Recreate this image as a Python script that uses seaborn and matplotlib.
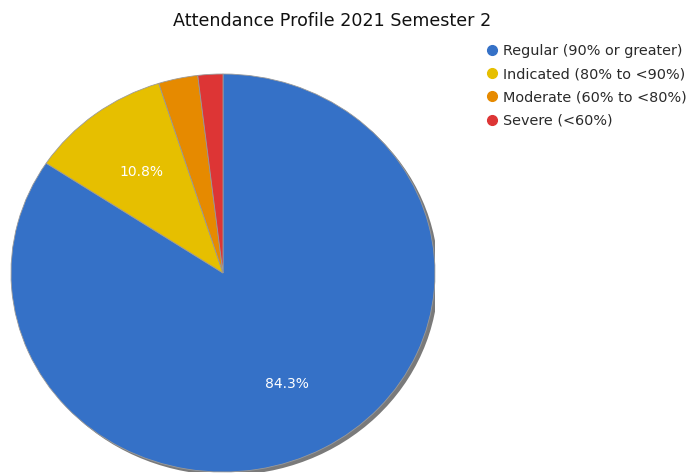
import matplotlib
matplotlib.use("Agg")
import matplotlib.pyplot as plt
from matplotlib.lines import Line2D
from matplotlib.patches import Ellipse
import seaborn as sns
import pandas as pd
import numpy as np

# 데이터
categories = ["Regular (90% or greater)", "Indicated (80% to <90%)",
              "Moderate (60% to <80%)", "Severe (<60%)"]
shares = [84.3, 10.8, 3.0, 1.9]
shown_labels = ["84.3%", "10.8%", "", ""]
colors = ["#3571C7", "#E6BF00", "#E68A00", "#DD3535"]

df = pd.DataFrame({"category": categories, "share": shares})

sns.set_theme(style="white")
plt.rcParams['font.family'] = ['DejaVu Sans']
palette = sns.color_palette(colors)

fig = plt.figure(figsize=(6.99, 4.76), dpi=100)
# pie box in pixels: x 11..435, y 74..472 (slightly wider than tall)
ax = fig.add_axes([11 / 699, 4 / 476, 424 / 699, 398 / 476])

# shadow behind the pie
ax.add_patch(Ellipse((0.016, -0.016), 2, 2, facecolor="#7a7a7a",
                     edgecolor="none", zorder=0))

wedges, _ = ax.pie(df["share"], colors=palette, startangle=90,
                   counterclock=False, radius=1,
                   wedgeprops=dict(edgecolor="#9a9a9a", linewidth=0.6, zorder=1))

# percentage labels (only big slices)
for w, lab in zip(wedges, shown_labels):
    if not lab:
        continue
    ang = np.deg2rad((w.theta1 + w.theta2) / 2)
    ax.text(0.635 * np.cos(ang), 0.635 * np.sin(ang), lab, color="white",
            ha="center", va="center", fontsize=10, zorder=3)

ax.set_aspect("auto")
ax.set_xlim(-1, 1)
ax.set_ylim(-1, 1)
ax.axis("off")

fig.text(332 / 699, 1 - 21 / 476, "Attendance Profile 2021 Semester 2",
         ha="center", va="center", fontsize=12.6, color="#111111")

handles = [Line2D([], [], marker="o", linestyle="none", markersize=7,
                  markerfacecolor=c, markeredgecolor=c) for c in colors]
fig.legend(handles, categories, loc="upper left",
           bbox_to_anchor=(486 / 699, 1 - 44 / 476), frameon=False,
           fontsize=10.4, labelcolor="#2a2a2a", handletextpad=0.4,
           handlelength=0.8, labelspacing=0.64, borderpad=0, borderaxespad=0)

fig.savefig("out.png", dpi=100, facecolor="white")
